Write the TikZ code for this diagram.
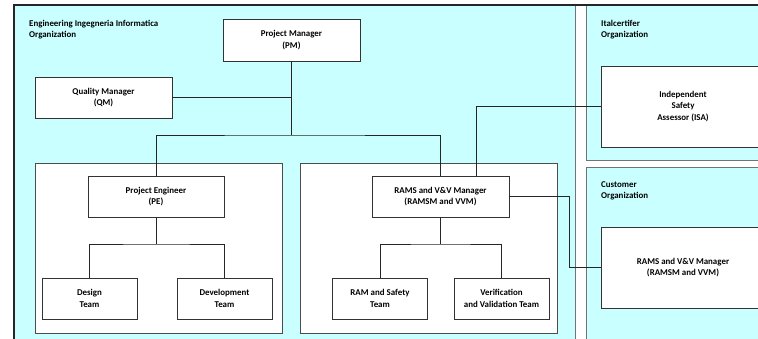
\documentclass[tikz,border=0pt]{standalone}
\usepackage{fontspec}
\setmainfont{Carlito}
\begin{document}
\begin{tikzpicture}[x=1pt,y=-1pt,
  org/.style={draw=black!55, fill=cyanbg, line width=0.8pt},
  frame/.style={draw=black!85, line width=1.8pt},
  grp/.style={draw=black!70, fill=white, line width=0.7pt},
  box/.style={draw=black!80, fill=white, line width=0.7pt, align=center,
    font=\fontsize{8.9}{11.5}\selectfont\bfseries, inner sep=0pt},
  lbl/.style={anchor=north west, align=left, font=\fontsize{8.9}{11}\selectfont\bfseries, inner sep=0pt},
  con/.style={draw=black!85, line width=0.7pt}]
\definecolor{cyanbg}{HTML}{CAFFFF}
\useasboundingbox (0,0) rectangle (758,338);
\clip (0,0) rectangle (758,338);
% organizations
\path[org] (14,5) rectangle (575,345);
\path[org] (586,5) rectangle (775,160);
\path[org] (586,167) rectangle (775,345);
\draw[frame] (14,345) -- (14,5) -- (775,5);
% groups
\path[grp] (35,163) rectangle (282,333);
\path[grp] (300,163) rectangle (557,333);
% labels
\node[lbl] (l1) at (29,20) {Engineering Ingegneria Informatica\\Organization};
\node[lbl] (l2) at (601,20) {Italcertifer\\Organization};
\node[lbl] (l3) at (601,181) {Customer\\Organization};
% nodes
\node[box, minimum width=137pt, minimum height=42pt] (pm) at (291.5,40) {Project Manager\\(PM)};
\node[box, minimum width=137pt, minimum height=41pt] (qm) at (103.5,97.5) {Quality Manager\\(QM)};
\node[box, minimum width=136pt, minimum height=41pt] (pe) at (156,196.5) {Project Engineer\\(PE)};
\node[box, minimum width=95pt, minimum height=41pt] (dt) at (89.5,298.5) {Design\\Team};
\node[box, minimum width=95pt, minimum height=41pt] (dv) at (224.5,298.5) {Development\\Team};
\node[box, minimum width=137pt, minimum height=41pt] (rm) at (440.5,196.5) {RAMS and V\&V Manager\\(RAMSM and VVM)};
\node[box, minimum width=95pt, minimum height=41pt] (rs) at (380,298.5) {RAM and Safety\\Team};
\node[box, minimum width=95pt, minimum height=41pt] (vv) at (501.5,298.5) {Verification\\and Validation Team};
\node[box, minimum width=164pt, minimum height=81pt] (isa) at (683,106.5) {Independent\\Safety\\Assessor (ISA)};
\node[box, minimum width=164pt, minimum height=81pt] (cr) at (683,267.5) {RAMS and V\&V Manager\\(RAMSM and VVM)};
% connectors
\coordinate (j1) at (291.5,135);
\draw[con] (pm.south) -- (j1);
\draw[con] (qm.east) -- (qm.east -| pm.south);
\draw[con] (pe.north) |- (j1) -| (rm.north);
\coordinate (j2) at (156,244);
\draw[con] (pe.south) -- (j2);
\draw[con] (dt.north) |- (j2) -| (dv.north);
\coordinate (j3) at (440.5,244);
\draw[con] (rm.south) -- (j3);
\draw[con] (rs.north) |- (j3) -| (vv.north);
\draw[con] (isa.west) -| ([xshift=35.5pt]rm.north);
\draw[con] (rm.east) -- (569,196.5) |- (cr.west);
\end{tikzpicture}
\end{document}
